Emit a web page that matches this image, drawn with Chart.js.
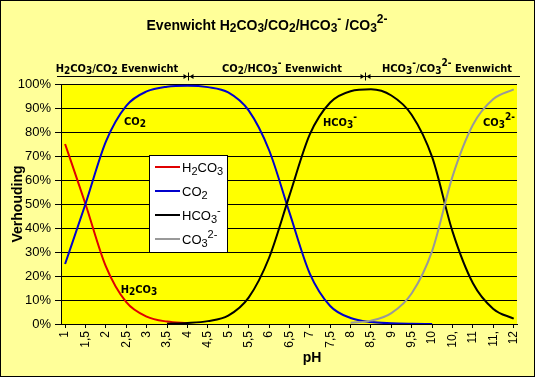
<!DOCTYPE html>
<html>
<head>
<meta charset="utf-8">
<script src="https://cdn.jsdelivr.net/npm/chart.js@4.4.1/dist/chart.umd.min.js"></script>
<style>
  html, body { margin: 0; padding: 0; background: #fff; }
  #wrap { width: 535px; height: 377px; position: relative; }
</style>
</head>
<body>
<div id="wrap"><canvas id="chart"></canvas></div>
<script>
// ---- data ----
const phValues = [1, 1.5, 2, 2.5, 3, 3.5, 4, 4.5, 5, 5.5, 6, 6.5, 7, 7.5, 8, 8.5, 9, 9.5, 10, 10.5, 11, 11.5, 12];
const phLabels = ['1', '1,5', '2', '2,5', '3', '3,5', '4', '4,5', '5', '5,5', '6', '6,5', '7', '7,5', '8', '8,5', '9', '9,5', '10', '10,', '11', '11,', '12'];
const yTicks = [0, 10, 20, 30, 40, 50, 60, 70, 80, 90, 100];

const h2co3 = [75, 50, 24, 9.1, 3.1, 1.0, 0.3, null, null, null, null, null, null, null, null, null, null, null, null, null, null, null, null];
const co2   = [25, 50, 76, 90.9, 96.9, 98.9, 99.3, 98.7, 96.5, 89, 72.5, 46.5, 21, 7.5, 2.5, 0.8, 0.3, 0.1, 0, null, null, null, null];
const hco3  = [null, null, null, null, null, 0.1, 0.4, 1.2, 3.5, 11, 27.5, 53.5, 79, 92.3, 97, 97.8, 95.2, 87.1, 69.5, 38.5, 17, 6.3, 2.2];
const co3   = [null, null, null, null, null, null, null, null, null, null, null, null, null, null, 0.5, 1.4, 4.5, 12.8, 30.5, 61.5, 83, 93.7, 97.8];

const seriesNames = [
    ['H', '_2', 'CO', '_3'],
    ['CO', '_2'],
    ['HCO', '_3', '^-'],
    ['CO', '_3', '^2-'],
];
const seriesColors = ['#e00000', '#0000cc', '#000000', '#999999'];

const FONT = '"Liberation Sans", Arial, sans-serif';
const NARROW = '"Liberation Sans Narrow", "DejaVu Sans Condensed", Arial, sans-serif';

// draws text made of parts, '_' = subscript, '^' = superscript
function richText(ctx, parts, x, y, o) {
    const fontOf = p => {
        const small = p[0] === '_' || p[0] === '^';
        const size = small ? o.small : o.size;
        return `${o.weight || 'normal'} ${size}px ${o.family}`;
    };
    const clean = p => (p[0] === '_' || p[0] === '^') ? p.slice(1) : p;
    let w = 0;
    parts.forEach(p => { ctx.font = fontOf(p); w += ctx.measureText(clean(p)).width; });
    let cx = o.align === 'center' ? x - w / 2 : x;
    ctx.textAlign = 'left';
    ctx.textBaseline = 'alphabetic';
    ctx.fillStyle = o.color || '#000';
    parts.forEach(p => {
        ctx.font = fontOf(p);
        let dy = 0;
        if (p[0] === '_') dy = o.subDy;
        if (p[0] === '^') dy = o.supDy;
        ctx.fillText(clean(p), cx, y + dy);
        cx += ctx.measureText(clean(p)).width;
    });
}

function arrowMark(ctx, x, y) {
    ctx.beginPath();
    ctx.moveTo(x, y - 4); ctx.lineTo(x, y + 4);
    ctx.stroke();
    ctx.beginPath();
    ctx.moveTo(x - 5, y - 2.5); ctx.lineTo(x - 1, y); ctx.lineTo(x - 5, y + 2.5); ctx.closePath();
    ctx.moveTo(x + 5, y - 2.5); ctx.lineTo(x + 1, y); ctx.lineTo(x + 5, y + 2.5); ctx.closePath();
    ctx.fill();
}

const decor = {
    id: 'decor',
    beforeDraw(chart) {
        const { ctx, chartArea: a } = chart;
        ctx.save();
        ctx.fillStyle = '#ffff99';
        ctx.fillRect(0, 0, chart.width, chart.height);
        ctx.fillStyle = '#ffff00';
        ctx.fillRect(a.left, a.top, a.right - a.left, a.bottom - a.top);
        ctx.restore();
    },
    afterDraw(chart) {
        const { ctx } = chart;
        ctx.save();

        // title
        richText(ctx, ['Evenwicht H', '_2', 'CO', '_3', '/CO', '_2', '/HCO', '_3', '^-', ' /CO', '_3', '^2-'], 267, 30,
            { family: FONT, size: 14, small: 12, weight: 'bold', align: 'center', subDy: 2, supDy: -7 });

        // ranges above the plot
        const nb = { family: NARROW, size: 11, small: 10, weight: 'bold', align: 'center', subDy: 2, supDy: -6 };
        richText(ctx, ['H', '_2', 'CO', '_3', '/CO', '_2', ' Evenwicht'], 117, 72, nb);
        richText(ctx, ['CO', '_2', '/HCO', '_3', '^-', ' Evenwicht'], 282, 72, nb);
        richText(ctx, ['HCO', '_3', '^-', '/CO', '_3', '^2-', ' Evenwicht'], 447, 72, nb);
        ctx.strokeStyle = '#000';
        ctx.fillStyle = '#000';
        ctx.lineWidth = 1;
        ctx.beginPath();
        ctx.moveTo(57, 76.5); ctx.lineTo(520, 76.5);
        ctx.stroke();
        arrowMark(ctx, 188.5, 76.5);
        arrowMark(ctx, 365.5, 76.5);

        // labels on the curves
        const cl = { family: NARROW, size: 11, small: 10, weight: 'bold', align: 'center', subDy: 2, supDy: -6 };
        richText(ctx, seriesNames[1], 135, 125, cl);
        richText(ctx, seriesNames[0], 139, 293, cl);
        richText(ctx, seriesNames[2], 340, 126, cl);
        richText(ctx, seriesNames[3], 499, 126, cl);

        // legend
        ctx.fillStyle = '#fff';
        ctx.fillRect(149, 155, 78, 97);
        ctx.strokeStyle = '#000';
        ctx.strokeRect(149.5, 155.5, 78, 97);
        seriesNames.forEach((n, i) => {
            const y = 167 + i * 24;
            ctx.strokeStyle = seriesColors[i];
            ctx.lineWidth = 2;
            ctx.beginPath();
            ctx.moveTo(155, y); ctx.lineTo(180, y);
            ctx.stroke();
            richText(ctx, n, 182, y + 5, { family: FONT, size: 13, small: 11, align: 'left', subDy: 3, supDy: -6 });
        });

        // axis titles
        ctx.fillStyle = '#000';
        ctx.font = `bold 14px ${FONT}`;
        ctx.textAlign = 'center';
        ctx.textBaseline = 'middle';
        ctx.fillText('pH', 312, 358);
        ctx.translate(18, 204);
        ctx.rotate(-Math.PI / 2);
        ctx.fillText('Verhouding', 0, 0);
        ctx.setTransform(1, 0, 0, 1, 0, 0);

        // outer frame
        ctx.strokeStyle = '#000';
        ctx.lineWidth = 1;
        ctx.strokeRect(0.5, 0.5, chart.width - 1, chart.height - 1);
        ctx.restore();
    }
};

const mk = (i, data) => ({
    label: seriesNames[i].join(''),
    data: data.map((v, k) => ({ x: phValues[k], y: v })),
    borderColor: seriesColors[i],
    backgroundColor: seriesColors[i],
    borderWidth: 2,
    pointRadius: 0,
    cubicInterpolationMode: 'monotone',
    spanGaps: false,
    order: 3 - i,
});

new Chart(document.getElementById('chart'), {
    type: 'line',
    data: {
        datasets: [mk(0, h2co3), mk(1, co2), mk(2, hco3), mk(3, co3)],
    },
    options: {
        responsive: true,
        maintainAspectRatio: false,
        animation: false,
        layout: { padding: { top: 84, right: 18, left: 0, bottom: 0 } },
        plugins: { legend: { display: false }, title: { display: false }, tooltip: { enabled: false } },
        scales: {
            x: {
                type: 'linear',
                min: 0.9,
                max: 12.08,
                afterBuildTicks: s => { s.ticks = phValues.map(v => ({ value: v })); },
                afterFit: s => { s.height = 53; },
                ticks: {
                    autoSkip: false,
                    maxRotation: 90,
                    minRotation: 90,
                    padding: 3,
                    color: '#000',
                    font: { family: FONT, size: 12 },
                    callback: (v, i) => phLabels[i],
                },
                grid: { drawOnChartArea: false, color: '#000', tickLength: 4 },
                border: { color: '#000' },
            },
            y: {
                min: 0,
                max: 100,
                afterBuildTicks: s => { s.ticks = yTicks.map(v => ({ value: v })); },
                afterFit: s => { s.width = 61; },
                ticks: {
                    padding: 4,
                    color: '#000',
                    font: { family: FONT, size: 13 },
                    callback: v => v + '%',
                },
                grid: { color: '#000', tickLength: 6 },
                border: { color: '#000' },
            },
        },
    },
    plugins: [decor],
});
</script>
</body>
</html>
